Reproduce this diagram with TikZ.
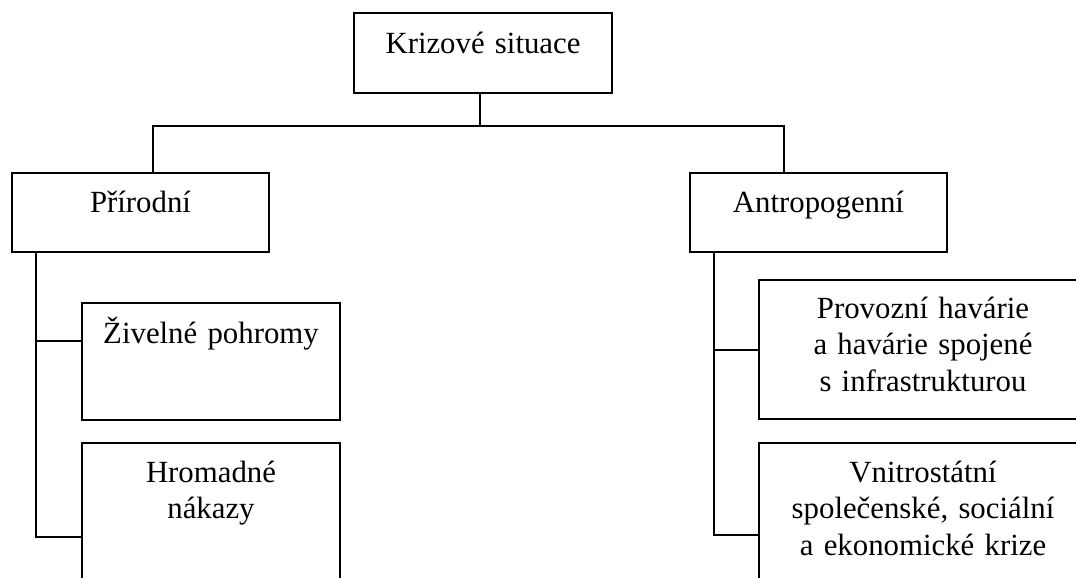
\documentclass[tikz,border=0pt]{standalone}
\usepackage{fontspec}
\setmainfont{Liberation Serif}
\begin{document}
\begin{tikzpicture}[x=1pt, y=-1pt, font=\fontsize{30.8}{36.8}\selectfont,
    box/.style={draw, line width=1.5pt, anchor=north west, outer sep=0pt, inner sep=0pt},
    txt/.style={anchor=base, align=center, inner sep=0pt},
    conn/.style={line width=2.2pt, line cap=rect}]
    \useasboundingbox (0,0) rectangle (1076,578);
    \clip (0,0) rectangle (1076,578);
    % boxes
    \node[box, minimum width=258pt, minimum height=80pt] (krize) at (354, 13) {};
    \node[box, minimum width=257pt, minimum height=79pt] (prirodni) at (12, 173) {};
    \node[box, minimum width=257pt, minimum height=79pt] (antropo) at (690, 173) {};
    \node[box, minimum width=258pt, minimum height=117pt] (zivelne) at (82, 303) {};
    \node[box, minimum width=258pt, minimum height=160pt] (hromadne) at (82, 443) {};
    \node[box, minimum width=328pt, minimum height=139pt] (provozni) at (759, 280) {};
    \node[box, minimum width=328pt, minimum height=160pt] (vnitro) at (759, 443) {};
    % texts
    \node[txt, text width=250pt] (krize-t) at ([yshift=-40pt]krize.north) {Krizové situace};
    \node[txt, text width=250pt] (prirodni-t) at ([yshift=-39pt]prirodni.north) {Přírodní};
    \node[txt, text width=250pt] (antropo-t) at ([yshift=-39pt]antropo.north) {Antropogenní};
    \node[txt, text width=250pt] (zivelne-t) at ([yshift=-40pt]zivelne.north) {Živelné pohromy};
    \node[txt, text width=250pt] (hromadne-t) at ([yshift=-39pt]hromadne.north) {Hromadné\\nákazy};
    \node[txt, text width=320pt] (provozni-t) at ([yshift=-38pt]provozni.north) {Provozní havárie\\a havárie spojené\\s infrastrukturou};
    \node[txt, text width=320pt] (vnitro-t) at ([yshift=-39pt]vnitro.north) {Vnitrostátní\\společenské, sociální\\a ekonomické krize};
    % connectors
    \coordinate (bus) at (480, 126);
    \coordinate (busL) at (153, 126);
    \coordinate (busR) at (784, 126);
    \coordinate (zivelne-c) at (82, 341);
    \coordinate (hromadne-c) at (82, 537);
    \coordinate (provozni-c) at (759, 350);
    \coordinate (vnitro-c) at (759, 535);
    \draw[conn] (bus |- krize.south) -- (bus);
    \draw[conn] (busL) -- (busR);
    \draw[conn] (busL) -- (busL |- prirodni.north);
    \draw[conn] (busR) -- (busR |- antropo.north);
    \draw[conn] (36, 0 |- prirodni.south) -- (36, 0 |- hromadne-c) -- (hromadne-c);
    \draw[conn] (36, 0 |- zivelne-c) -- (zivelne-c);
    \draw[conn] (714, 0 |- antropo.south) -- (714, 0 |- vnitro-c) -- (vnitro-c);
    \draw[conn] (714, 0 |- provozni-c) -- (provozni-c);
\end{tikzpicture}
\end{document}
